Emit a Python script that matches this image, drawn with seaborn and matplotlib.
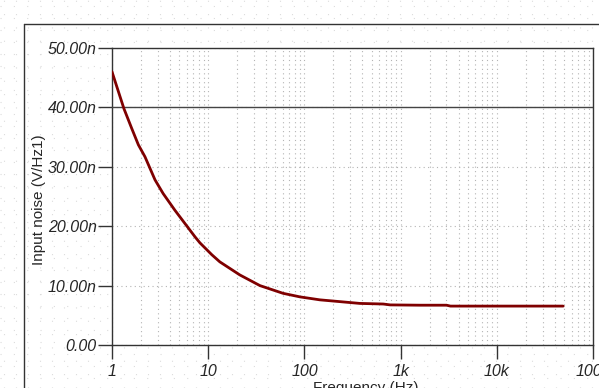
import numpy as np
import pandas as pd
import matplotlib.pyplot as plt
import seaborn as sns
from matplotlib.ticker import FixedLocator, NullFormatter

sns.set_style("white")
plt.rcParams['font.family'] = ['Liberation Sans', 'DejaVu Sans']

# Data (frequency in Hz, noise in nV/rtHz)
freq = [1, 1.33, 1.6, 1.88, 2.2, 2.8, 3.4, 4.5, 5.7, 7.3, 8.2, 10.9, 13.2,
        21.3, 34.5, 60, 90, 145, 234, 377, 660, 780, 1600, 3000, 3300,
        10000, 45000, 49000]
noise = [46.0, 39.8, 36.5, 33.7, 31.7, 27.8, 25.5, 22.7, 20.5, 18.2, 17.2,
         15.2, 14.0, 11.8, 10.0, 8.7, 8.1, 7.6, 7.3, 7.0, 6.9, 6.75, 6.7,
         6.7, 6.55, 6.55, 6.55, 6.55]

x_ticks = [1, 10, 100, 1e3, 1e4, 1e5]
x_labels = ['1', '10', '100', '1k', '10k', '100k']
y_ticks = [0, 10, 20, 30, 40, 50]
y_labels = ['0.00', '10.00n', '20.00n', '30.00n', '40.00n', '50.00n']

df = pd.DataFrame({'Frequency': freq, 'Noise': noise})

fig = plt.figure(figsize=(5.99, 3.88), dpi=100)

# dotted background of the outer window
bg = fig.add_axes([0, 0, 1, 1], zorder=-5)
bg.set_xlim(0, 599)
bg.set_ylim(388, 0)
bg.set_xticks(np.arange(4, 599, 12))
bg.set_yticks(np.arange(6, 388, 12))
bg.grid(True, color='#dcdcdc', linestyle=(0, (1, 11)), linewidth=0.8)
bg.tick_params(left=False, bottom=False, labelleft=False, labelbottom=False)
for s in bg.spines.values():
    s.set_visible(False)
bg.plot([24, 599], [24, 24], color='#333333', lw=1)
bg.plot([24, 24], [24, 388], color='#333333', lw=1)

ax = fig.add_axes([112 / 599, 1 - 345 / 388, (593 - 112) / 599, (345 - 48) / 388])
ax.set_facecolor('white')

sns.lineplot(data=df, x='Frequency', y='Noise', ax=ax, color='#7f0000',
             linewidth=2, zorder=5)

ax.set_xscale('log')
ax.set_xlim(1, 1e5)
ax.set_ylim(0, 50)

ax.xaxis.set_major_locator(FixedLocator(x_ticks))
ax.set_xticklabels(x_labels)
minors = [m * 10 ** d for d in range(5) for m in range(2, 10)]
ax.xaxis.set_minor_locator(FixedLocator(minors))
ax.xaxis.set_minor_formatter(NullFormatter())
ax.set_yticks(y_ticks)
ax.set_yticklabels(y_labels)
ax.yaxis.set_minor_locator(FixedLocator(np.arange(0, 50, 2.5)))

ax.tick_params(axis='both', which='major', direction='out', length=10,
               width=1, color='#333333', labelsize=11.5, pad=1)
ax.tick_params(axis='both', which='minor', direction='out', length=4,
               width=1, color='#333333')
ax.tick_params(axis='x', which='major', pad=4)
ax.tick_params(left=True, bottom=True)
for lab in ax.get_xticklabels() + ax.get_yticklabels():
    lab.set_fontstyle('italic')

ax.grid(True, which='both', axis='x', color='#b4b4b4',
        linestyle=(0, (1, 3)), linewidth=0.8)
ax.grid(True, which='major', axis='y', color='#b4b4b4',
        linestyle=(0, (1, 3)), linewidth=0.8)
ax.axhline(40, color='#444444', lw=1, zorder=3)

for s in ax.spines.values():
    s.set_color('#333333')
    s.set_linewidth(1)

ax.set_xlabel('')
ax.set_ylabel('Input noise (V/Hz1)', fontsize=11)
ax.yaxis.set_label_coords(-(112 - 46) / 481, 0.49)
fig.text(366 / 599, 1 - 381 / 388, 'Frequency (Hz)', ha='center', va='top',
         fontsize=11)

fig.savefig('out.png', dpi=100)
